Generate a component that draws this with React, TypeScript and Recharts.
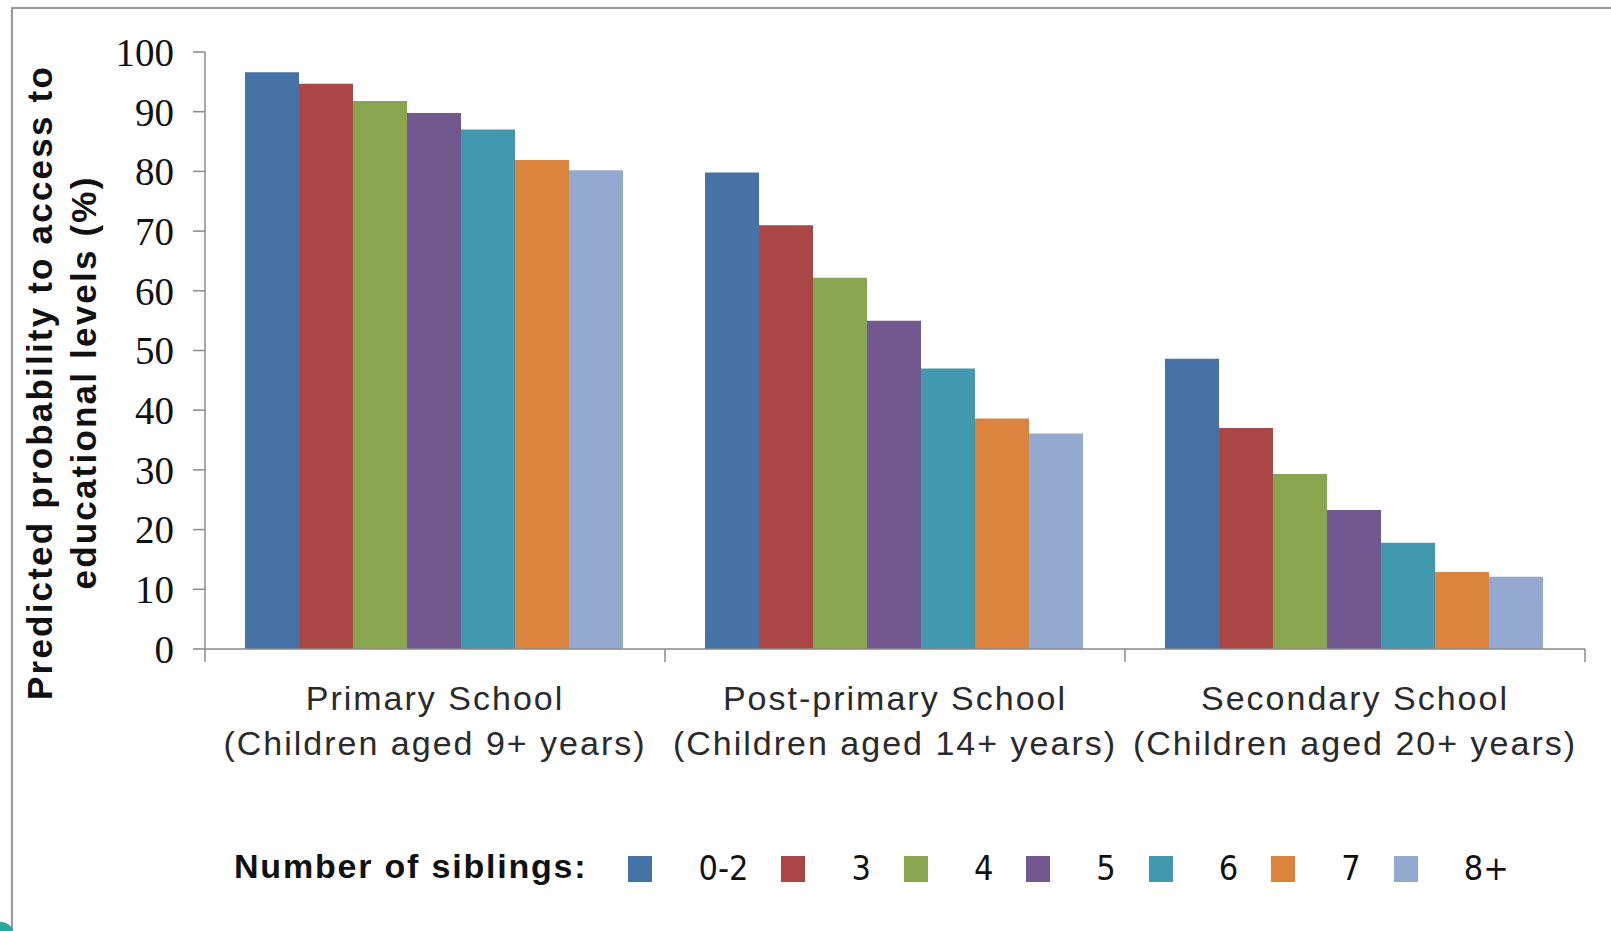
import React from 'react';
import { BarChart, Bar, XAxis, YAxis, Legend } from 'recharts';

const schools = ['Primary School', 'Post-primary School', 'Secondary School'];
const ageGroups = ['(Children aged 9+ years)', '(Children aged 14+ years)', '(Children aged 20+ years)'];
const siblings = ['0-2', '3', '4', '5', '6', '7', '8+'];
const colors = ['#4572A7', '#AA4643', '#89A54E', '#71588F', '#4198AF', '#DB843D', '#93A9CF'];
const yTicks = [0, 10, 20, 30, 40, 50, 60, 70, 80, 90, 100];

// predicted probability (%) per school level, one list per sibling group
const sib02 = [96.6, 79.8, 48.6];
const sib3 = [94.7, 71.0, 37.0];
const sib4 = [91.8, 62.2, 29.3];
const sib5 = [89.8, 55.0, 23.3];
const sib6 = [87.0, 47.0, 17.8];
const sib7 = [81.9, 38.6, 12.9];
const sib8 = [80.2, 36.1, 12.1];

const seriesValues = [sib02, sib3, sib4, sib5, sib6, sib7, sib8];

const data = schools.map((school, i) => {
  const row: Record<string, string | number> = { school, age: ageGroups[i] };
  siblings.forEach((s, k) => {
    row[s] = seriesValues[k][i];
  });
  return row;
});

const AXIS = '#8a8a8a';
const sansFont = "'Liberation Sans', Arial, sans-serif";

// category label with tick marks on the band edges
const SchoolTick = (props: any) => {
  const { x, y, payload, index, width } = props;
  const half = payload.offset ?? width / schools.length / 2;
  const isLast = index === schools.length - 1;
  return (
    <g>
      <line x1={x - half} y1={y} x2={x - half} y2={y + 13} stroke={AXIS} strokeWidth={1.5} />
      {isLast && <line x1={x + half} y1={y} x2={x + half} y2={y + 13} stroke={AXIS} strokeWidth={1.5} />}
      <text
        x={x}
        y={y + 61}
        textAnchor="middle"
        fontFamily={sansFont}
        fontSize={34}
        letterSpacing={2}
        fill="#2a2a2a"
      >
        {payload.value}
      </text>
      <text
        x={x}
        y={y + 106}
        textAnchor="middle"
        fontFamily={sansFont}
        fontSize={34}
        letterSpacing={2}
        fill="#2a2a2a"
      >
        {ageGroups[index]}
      </text>
    </g>
  );
};

const YTitle = (props: any) => {
  const { viewBox } = props;
  const cy = viewBox.y + viewBox.height / 2 + 32;
  const common = {
    textAnchor: 'middle' as const,
    fontFamily: sansFont,
    fontWeight: 700,
    fontSize: 35,
    letterSpacing: 2.2,
    fill: '#111',
  };
  return (
    <g>
      <text x={52} y={cy} transform={`rotate(-90, 52, ${cy})`} {...common}>
        Predicted probability to access to
      </text>
      <text x={96} y={cy} transform={`rotate(-90, 96, ${cy})`} {...common}>
        educational levels (%)
      </text>
    </g>
  );
};

const SiblingLegend = () => (
  <div style={{ display: 'flex', alignItems: 'center', height: 44 }}>
    <span
      style={{
        fontFamily: sansFont,
        fontWeight: 700,
        fontSize: 34,
        letterSpacing: 1.8,
        color: '#111',
        marginRight: 41,
        whiteSpace: 'nowrap',
      }}
    >
      Number of siblings:
    </span>
    {siblings.map((s, i) => (
      <div key={s} style={{ display: 'flex', alignItems: 'center' }}>
        <div style={{ width: 24, height: 26, marginTop: 6, background: colors[i], marginRight: 46 }} />
        <span
          style={{
            fontFamily: "'Liberation Sans Narrow', 'DejaVu Sans', sans-serif",
            fontStretch: 'condensed',
            fontSize: 34,
            color: '#111',
            marginTop: 4,
            marginRight: 33,
          }}
        >
          {s}
        </span>
      </div>
    ))}
  </div>
);

export default function App() {
  return (
    <div
      style={{
        position: 'absolute',
        left: 0,
        top: 0,
        width: 1611,
        height: 931,
        background: '#fff',
        overflow: 'hidden',
      }}
    >
      <div
        style={{
          position: 'absolute',
          left: 11,
          top: 7,
          width: 1700,
          height: 1000,
          border: '2px solid #9a9a9a',
          boxShadow: '0 1px 2px #ddd',
        }}
      />
      <div
        style={{
          position: 'absolute',
          left: -12,
          top: 922,
          width: 26,
          height: 26,
          borderRadius: '50%',
          background: '#2aa79b',
        }}
      />
      <div style={{ position: 'absolute', left: 0, top: 0 }}>
        <BarChart
          width={1611}
          height={931}
          data={data}
          margin={{ top: 52, right: 26, bottom: 0, left: 0 }}
          barCategoryGap="8.7%"
          barGap={0}
        >
          <YAxis
            width={205}
            domain={[0, 100]}
            ticks={yTicks}
            interval={0}
            tickSize={12}
            tickMargin={19}
            axisLine={{ stroke: AXIS, strokeWidth: 1.5 }}
            tickLine={{ stroke: AXIS, strokeWidth: 1.5 }}
            tick={{ fontFamily: "'Liberation Serif', 'Times New Roman', serif", fontSize: 39, fill: '#111' }}
            label={<YTitle />}
          />
          <XAxis
            dataKey="school"
            height={282}
            interval={0}
            tickSize={0}
            tickMargin={0}
            tickLine={false}
            axisLine={{ stroke: AXIS, strokeWidth: 1.5 }}
            tick={<SchoolTick />}
          />
          <Legend
            layout="horizontal"
            verticalAlign="middle"
            content={<SiblingLegend />}
            wrapperStyle={{ left: 234, top: 844, width: 1350, height: 44 }}
          />
          {siblings.map((s, i) => (
            <Bar key={s} dataKey={s} name={s} fill={colors[i]} isAnimationActive={false} />
          ))}
        </BarChart>
      </div>
    </div>
  );
}
